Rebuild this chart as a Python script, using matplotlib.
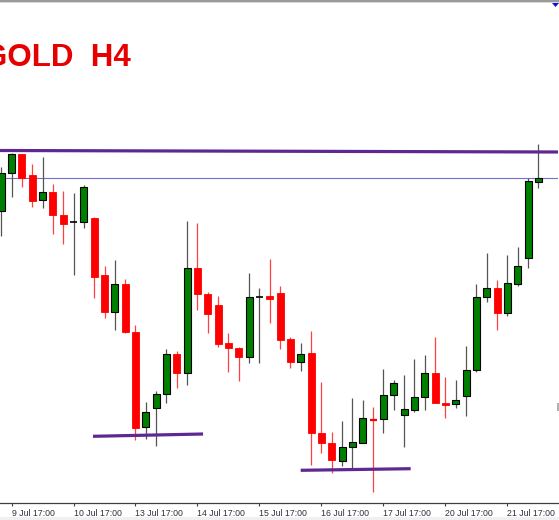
import matplotlib
matplotlib.use("Agg")
import matplotlib.pyplot as plt
from matplotlib.patches import Rectangle, Polygon
import numpy as np

# ---------------- data (GOLD, H4 candles) ----------------
opens = [1813.9, 1817.7, 1819.6, 1817.5, 1815.0, 1815.8, 1813.5, 1812.8, 1812.8, 1813.2,
         1807.5, 1803.8, 1806.6, 1801.8, 1792.3, 1794.2, 1795.6, 1799.6, 1797.7, 1808.2,
         1805.6, 1804.5, 1800.7, 1800.2, 1799.3, 1805.3, 1805.4, 1805.7, 1801.1, 1798.8,
         1799.7, 1791.7, 1790.7, 1788.9, 1790.3, 1790.7, 1793.1, 1793.1, 1795.5, 1793.5,
         1794.0, 1795.3, 1797.7, 1794.7, 1794.6, 1795.4, 1798.0, 1805.3, 1806.2, 1803.7,
         1806.6, 1809.2, 1816.8]
highs = [1818.3, 1819.7, 1819.6, 1818.6, 1819.3, 1816.6, 1815.9, 1815.7, 1816.5, 1813.3,
         1808.4, 1809.0, 1807.1, 1802.5, 1794.8, 1795.9, 1800.1, 1799.9, 1812.9, 1812.7,
         1805.8, 1805.4, 1801.7, 1800.3, 1807.7, 1806.2, 1809.1, 1806.4, 1801.3, 1800.7,
         1801.9, 1796.8, 1791.8, 1792.9, 1795.2, 1795.0, 1794.3, 1798.1, 1797.0, 1797.5,
         1799.1, 1799.5, 1801.3, 1797.3, 1797.0, 1800.4, 1806.6, 1809.7, 1807.0, 1809.5,
         1810.3, 1817.2, 1820.6]
lows = [1811.4, 1815.3, 1816.3, 1814.3, 1814.2, 1811.6, 1810.6, 1807.5, 1812.2, 1805.2,
        1803.2, 1802.0, 1801.7, 1791.0, 1791.1, 1790.4, 1794.7, 1796.2, 1796.5, 1804.0,
        1801.7, 1800.3, 1797.8, 1796.9, 1798.7, 1798.7, 1802.7, 1800.1, 1798.2, 1797.9,
        1788.5, 1789.7, 1787.7, 1788.4, 1788.2, 1790.7, 1785.8, 1791.7, 1794.0, 1790.3,
        1793.8, 1794.0, 1794.7, 1793.2, 1794.2, 1793.4, 1797.8, 1804.8, 1802.0, 1803.4,
        1806.4, 1808.2, 1816.2]
closes = [1817.7, 1819.6, 1817.2, 1814.9, 1815.8, 1813.5, 1812.6, 1812.8, 1816.3, 1807.3,
          1803.8, 1806.6, 1801.8, 1792.2, 1793.8, 1795.6, 1799.6, 1797.7, 1808.2, 1805.6,
          1803.6, 1800.6, 1800.2, 1799.3, 1805.3, 1805.4, 1805.1, 1801.0, 1798.8, 1799.6,
          1791.7, 1790.7, 1789.0, 1790.3, 1790.8, 1793.2, 1793.0, 1795.5, 1796.7, 1794.1,
          1795.3, 1797.7, 1794.7, 1794.5, 1795.0, 1798.0, 1805.3, 1806.2, 1803.7, 1806.7,
          1808.4, 1816.9, 1817.25]

tick_index = [1, 7, 13, 19, 25, 31, 37, 43, 49]
tick_labels = ["9 Jul 17:00", "10 Jul 17:00", "13 Jul 17:00", "14 Jul 17:00",
               "15 Jul 17:00", "16 Jul 17:00", "17 Jul 17:00", "20 Jul 17:00",
               "21 Jul 17:00"]

resistance_x = [-0.2, 54.0]
resistance_y = [1819.95, 1819.8]
support1_x = [8.89, 19.54]
support1_y = [1791.37, 1791.6]
support2_x = [28.99, 39.64]
support2_y = [1787.97, 1788.13]

title_text = "GOLD  H4"

# ---------------- figure ----------------
W, H = 559, 520
fig = plt.figure(figsize=(W / 100, H / 100), dpi=100)
fig.patch.set_facecolor("white")

ax_bottom_px = 503
ax = fig.add_axes([0, (H - ax_bottom_px) / H, 558 / W, ax_bottom_px / H])
ax.set_facecolor("white")

px_per_bar = 10.33
x0_px = 1.2
ax.set_xlim(-x0_px / px_per_bar, (558 - x0_px) / px_per_bar)
ax.set_ylim(1835.0 - ax_bottom_px / 10.0, 1835.0)

x = np.arange(len(opens))
o = np.array(opens); c = np.array(closes); hi = np.array(highs); lo = np.array(lows)
bull = c >= o

up_col = "#008000"
dn_col = "#ff0000"
body_w = 0.68

# wicks
for i in range(len(x)):
    col = "#555555" if bull[i] else "#ff4040"
    ax.vlines(x[i], lo[i], hi[i], colors=col, linewidth=0.9, zorder=2)

# bodies
for i in range(len(x)):
    b = min(o[i], c[i]); h = abs(c[i] - o[i])
    if bull[i]:
        if h < 0.15:
            ax.hlines(b + h / 2, x[i] - body_w / 2, x[i] + body_w / 2, colors="black",
                      linewidth=1.2, zorder=3)
        else:
            ax.add_patch(Rectangle((x[i] - body_w / 2, b), body_w, h, facecolor=up_col,
                                   edgecolor="black", linewidth=0.8, zorder=3))
    else:
        if h < 0.15:
            ax.hlines(b + h / 2, x[i] - body_w / 2, x[i] + body_w / 2, colors=dn_col,
                      linewidth=1.6, zorder=3)
        else:
            ax.add_patch(Rectangle((x[i] - body_w / 2, b), body_w, h, facecolor=dn_col,
                                   edgecolor=dn_col, linewidth=0.6, zorder=3))

# current price line
ax.axhline(closes[-1], color="#7070d0", linewidth=0.8, zorder=1)

# trend lines
purple = "#5f2890"
for tx, ty in [(resistance_x, resistance_y), (support1_x, support1_y),
               (support2_x, support2_y)]:
    ax.plot(tx, ty, color=purple, linewidth=2.3, zorder=4, solid_capstyle="butt")

# axes style
for s in ["top", "right", "left"]:
    ax.spines[s].set_visible(False)
ax.spines["bottom"].set_color("#404040")
ax.spines["bottom"].set_linewidth(0.9)
ax.set_yticks([])
ax.set_xticks(tick_index)
ax.set_xticklabels(tick_labels, ha="left", fontsize=6.3, color="#303040",
                   family="Liberation Sans")
ax.tick_params(axis="x", direction="out", length=2, width=0.8, color="#404040", pad=2)

# title (partly cut at the left edge, as in the screenshot)
fig.text(131 / W, 1 - 66 / H, title_text, ha="right", va="baseline", color="#e60000",
         fontsize=22.5, fontweight="bold", family="Liberation Sans")

# frame decorations (top border, bottom band, shift marker, edge mark)
fig.add_artist(Rectangle((0, 1 - 1.5 / H), 1, 1.5 / H, transform=fig.transFigure,
                         facecolor="#9a9a9a", edgecolor="none"))
fig.add_artist(Rectangle((0, 1 - 3 / H), 1, 1.5 / H, transform=fig.transFigure,
                         facecolor="#d8d8d8", edgecolor="none"))
fig.add_artist(Rectangle((0, 0), 1, 3 / H, transform=fig.transFigure,
                         facecolor="#f0f0f0", edgecolor="none"))
fig.add_artist(Polygon([[552 / W, 1 - 3 / H], [559 / W, 1 - 3 / H], [555.5 / W, 1 - 7 / H]],
                       closed=True, transform=fig.transFigure, facecolor="#1010d0",
                       edgecolor="none"))
fig.add_artist(Rectangle((557 / W, 1 - 411 / H), 2 / W, 8 / H, transform=fig.transFigure,
                         facecolor="#b0b0b0", edgecolor="none"))

fig.savefig("out.png", dpi=100, facecolor="white")
